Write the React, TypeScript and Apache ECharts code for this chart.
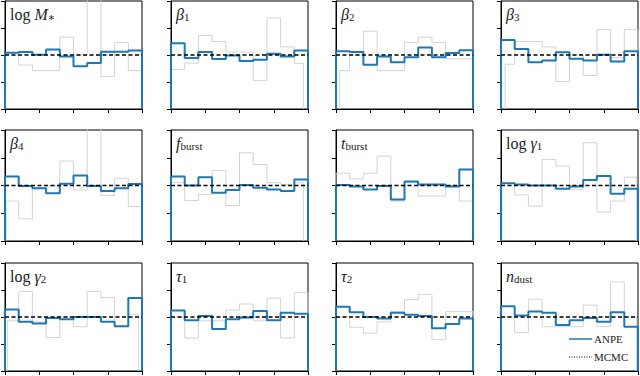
import React, { useEffect, useRef } from 'react';
import * as echarts from 'echarts';

// Panel labels (rich-text markup: r = roman, i = italic, s = subscript)
const panelLabels: string[] = [
  '{r|log }{i|M}{s|∗}',
  '{i|β}{s|1}',
  '{i|β}{s|2}',
  '{i|β}{s|3}',
  '{i|β}{s|4}',
  '{i|f}{s|burst}',
  '{i|t}{s|burst}',
  '{r|log }{i|γ}{s|1}',
  '{r|log }{i|γ}{s|2}',
  '{i|τ}{s|1}',
  '{i|τ}{s|2}',
  '{i|n}{s|dust}',
];

// ANPE histograms (blue), 10 bins each
const anpe: number[][] = [
  [1.04, 1.055, 1.005, 1.10, 0.97, 0.79, 0.85, 1.06, 1.06, 1.085],
  [1.216, 0.945, 1.055, 0.926, 0.99, 0.89, 0.914, 1.025, 0.97, 1.085],
  [1.07, 1.055, 0.82, 0.97, 0.864, 0.957, 1.14, 0.957, 1.037, 1.086],
  [1.28, 1.11, 0.864, 0.90, 1.05, 0.93, 0.90, 1.006, 0.88, 1.07],
  [1.16, 0.99, 0.95, 0.86, 1.03, 1.18, 0.99, 0.90, 0.95, 1.025],
  [1.16, 1.0, 1.15, 0.87, 0.92, 1.01, 0.96, 0.93, 0.90, 1.11],
  [1.01, 0.98, 0.93, 0.99, 0.75, 1.07, 1.02, 1.02, 0.98, 1.29],
  [1.04, 1.02, 1.0, 1.0, 0.94, 0.98, 1.10, 1.17, 0.85, 0.94],
  [1.14, 0.91, 0.88, 0.98, 0.96, 1.0, 1.0, 0.91, 0.83, 1.35],
  [1.12, 0.94, 1.02, 0.78, 0.96, 0.99, 1.11, 0.94, 1.08, 1.06],
  [1.19, 1.09, 1.0, 0.97, 1.08, 1.04, 1.02, 0.79, 0.87, 0.97],
  [1.2, 1.03, 1.1, 1.08, 0.85, 0.94, 0.98, 0.91, 1.09, 0.82],
];

// Light grey comparison histograms, 10 bins each
const grey: number[][] = [
  [1.0, 0.815, 0.71, 0.71, 1.33, 1.0, 2.6, 0.6, 1.23, 0.71],
  [0.73, 0.85, 1.36, 1.25, 1.055, 1.055, 0.525, 1.685, 1.15, 0.84],
  [0.71, 1.0, 1.44, 0.71, 0.71, 1.23, 1.33, 1.23, 0.93, 0.93],
  [0.83, 1.25, 1.25, 1.15, 0.51, 1.0, 0.62, 1.47, 0.95, 1.47],
  [0.72, 0.40, 0.96, 0.99, 1.44, 0.92, 2.6, 0.82, 1.13, 0.62],
  [1.05, 0.73, 0.84, 1.27, 0.64, 1.59, 1.38, 1.05, 1.02, 1.05],
  [1.22, 1.12, 1.22, 1.53, 0.72, 1.05, 0.81, 0.81, 1.0, 0.72],
  [1.04, 0.83, 0.63, 1.47, 1.35, 0.93, 1.77, 0.52, 0.72, 1.15],
  [0.93, 1.47, 0.91, 0.62, 1.0, 0.82, 1.47, 1.36, 0.82, 1.05],
  [1.0, 0.61, 0.93, 0.93, 1.13, 1.24, 0.93, 1.35, 0.61, 1.45],
  [1.0, 0.81, 0.70, 0.91, 1.10, 1.32, 1.42, 0.58, 1.10, 1.10],
  [1.0, 0.71, 1.33, 0.82, 0.82, 0.82, 1.22, 0.82, 1.65, 1.0],
];
const greyStart: number[] = [0, 0, 0.027, 0.03, 0.008, 0, 0, 0.007, 0.017, 0, 0, 0];
const greyEnd: number[] = [1, 0.966, 1, 1, 1, 0.966, 1, 0.99, 0.973, 1, 1, 0.99];

const mcmcLevel = 1;
const legendNames = ['ANPE', 'MCMC'];

const xMin = 0, xMax = 1, xInterval = 0.25;
const yMin = 0, yMax = 2, yInterval = 0.5;

const BLUE = '#1f77b4';
const SERIF = '"Liberation Serif", "DejaVu Serif", serif';

function steps(vals: number[], lo: number, hi: number): number[][] {
  const n = vals.length;
  const edges = Array.from({ length: n + 1 }, (_, i) => xMin + (i * (xMax - xMin)) / n);
  edges[0] = lo;
  edges[n] = hi;
  const pts: number[][] = [[edges[0], 0]];
  vals.forEach((v, i) => {
    pts.push([edges[i], v]);
    pts.push([edges[i + 1], v]);
  });
  pts.push([edges[n], 0]);
  return pts;
}

export default function App() {
  const ref = useRef<HTMLDivElement>(null);
  useEffect(() => {
    if (!ref.current) return;
    const chart = echarts.init(ref.current, null, { renderer: 'svg' });
    const lefts = [5, 171, 336, 501];
    const tops = [1, 130, 263];
    const heights = [108, 111, 108];
    const width = 137;

    const grids: any[] = [];
    const xAxes: any[] = [];
    const yAxes: any[] = [];
    const series: any[] = [];
    const titles: any[] = [];

    const base = { fontFamily: SERIF, color: '#222', fontWeight: 'normal' };
    const rich = {
      r: { ...base, fontSize: 16, lineHeight: 18, verticalAlign: 'bottom' },
      i: { ...base, fontSize: 16, fontStyle: 'italic', lineHeight: 18, verticalAlign: 'bottom' },
      s: { ...base, fontSize: 11, lineHeight: 7, verticalAlign: 'bottom' },
    };

    for (let k = 0; k < 12; k++) {
      const r = Math.floor(k / 4);
      const c = k % 4;
      grids.push({
        left: lefts[c], top: tops[r], width, height: heights[r],
        show: true, borderColor: '#000', borderWidth: 1, backgroundColor: 'transparent',
      });
      const axisCommon = {
        gridIndex: k,
        type: 'value',
        axisLine: { show: true, onZero: false, lineStyle: { color: '#000', width: 1 } },
        axisTick: { show: true, inside: false, length: 4, lineStyle: { color: '#000', width: 1 } },
        axisLabel: { show: false },
        splitLine: { show: false },
      };
      xAxes.push({ ...axisCommon, min: xMin, max: xMax, interval: xInterval });
      yAxes.push({ ...axisCommon, min: yMin, max: yMax, interval: yInterval });

      series.push({
        type: 'line', xAxisIndex: k, yAxisIndex: k, clip: true,
        data: steps(grey[k], greyStart[k], greyEnd[k]),
        showSymbol: false, symbol: 'none',
        lineStyle: { color: '#d4d4d4', width: 1 }, z: 1,
      });
      series.push({
        type: 'line', xAxisIndex: k, yAxisIndex: k, clip: true,
        name: legendNames[0],
        data: steps(anpe[k], xMin, xMax),
        showSymbol: false, symbol: 'none',
        lineStyle: { color: BLUE, width: 2 }, z: 2,
      });
      series.push({
        type: 'line', xAxisIndex: k, yAxisIndex: k, clip: true,
        name: legendNames[1],
        data: [[xMin, mcmcLevel], [xMax, mcmcLevel]],
        showSymbol: false, symbol: 'none',
        lineStyle: { color: '#000', width: 1.3, type: [4, 2.5] }, z: 3,
      });
      titles.push({
        text: panelLabels[k],
        left: lefts[c] + 5,
        top: tops[r] + 3,
        padding: 0,
        textStyle: { fontWeight: 'normal', rich },
      });
    }

    const graphic: any[] = [
      { type: 'line', shape: { x1: 569, y1: 339, x2: 592, y2: 339 }, style: { stroke: BLUE, lineWidth: 1.5 }, z: 100 },
      { type: 'text', x: 594, y: 339, style: { text: legendNames[0], fontFamily: SERIF, fontSize: 11, fill: '#222', verticalAlign: 'middle' }, z: 100 },
      { type: 'line', shape: { x1: 569, y1: 357, x2: 592, y2: 357 }, style: { stroke: '#000', lineWidth: 1, lineDash: [1, 1.5] }, z: 100 },
      { type: 'text', x: 594, y: 357, style: { text: legendNames[1], fontFamily: SERIF, fontSize: 11, fill: '#222', verticalAlign: 'middle' }, z: 100 },
    ];

    chart.setOption({
      animation: false,
      backgroundColor: '#fff',
      title: titles,
      grid: grids,
      xAxis: xAxes,
      yAxis: yAxes,
      series,
      graphic,
    });
    return () => chart.dispose();
  }, []);
  return <div ref={ref} style={{ position: 'absolute', left: 0, top: 0, width: 640, height: 376 }} />;
}
